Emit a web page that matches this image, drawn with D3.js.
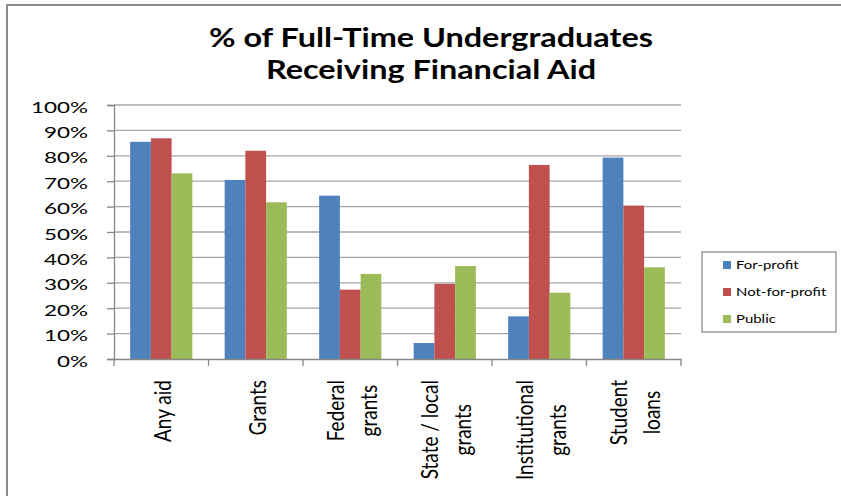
<!DOCTYPE html>
<html>
<head>
<meta charset="utf-8">
<script src="https://cdn.jsdelivr.net/npm/d3@7"></script>
<style>
  html, body { margin: 0; padding: 0; background: #fff; }
  svg { display: block; }
  text { font-family: Lato, "Open Sans", sans-serif; fill: #000; }
</style>
</head>
<body>
<svg id="chart" width="841" height="496"></svg>
<script>
// ---- data ----
const categories = ["Any aid", "Grants", "Federal\ngrants", "State / local\ngrants", "Institutional\ngrants", "Student\nloans"];
const seriesNames = ["For-profit", "Not-for-profit", "Public"];
const forProfit    = [85.5, 70.5, 64.3, 6.3, 16.8, 79.3];
const notForProfit = [86.9, 82.0, 27.3, 29.6, 76.4, 60.4];
const publicInst   = [73.1, 61.7, 33.5, 36.6, 26.1, 36.1];
const yTicks = [0, 10, 20, 30, 40, 50, 60, 70, 80, 90, 100];
const titleLines = ["% of Full-Time Undergraduates", "Receiving Financial Aid"];
const colors = ["#4F81BD", "#C0504D", "#9BBB59"];

const seriesValues = [forProfit, notForProfit, publicInst];

const svg = d3.select("#chart");

// outer chart border (extends beyond right/bottom edges)
svg.append("rect")
  .attr("x", 7).attr("y", 5).attr("width", 900).attr("height", 600)
  .attr("fill", "#fff").attr("stroke", "#8c8c8c").attr("stroke-width", 2);

const plot = { left: 114, right: 681, top: 105, bottom: 359 };

const x0 = d3.scaleBand().domain(categories).range([plot.left, plot.right]).padding(0);
const x1 = d3.scaleBand().domain(seriesNames).range([0, x0.bandwidth()]).paddingInner(0).paddingOuter(0.78);
const y = d3.scaleLinear().domain([0, 100]).range([plot.bottom, plot.top]);

// gridlines
svg.append("g").selectAll("line").data(yTicks.filter(d => d > 0)).join("line")
  .attr("x1", plot.left).attr("x2", plot.right)
  .attr("y1", d => y(d)).attr("y2", d => y(d))
  .attr("stroke", "#a6a6a6").attr("stroke-width", 1.3);

// bars
const groups = svg.append("g").selectAll("g").data(categories).join("g")
  .attr("transform", d => `translate(${x0(d)},0)`);
groups.selectAll("rect")
  .data((c, ci) => seriesNames.map((s, si) => ({ s, si, v: seriesValues[si][ci] })))
  .join("rect")
  .attr("x", d => x1(d.s))
  .attr("width", x1.bandwidth())
  .attr("y", d => y(d.v))
  .attr("height", d => y(0) - y(d.v))
  .attr("fill", d => colors[d.si]);

// y axis
const yAxis = d3.axisLeft(y).tickValues(yTicks).tickSize(7).tickFormat(d => d + "%");
const yg = svg.append("g").attr("transform", `translate(${plot.left},0)`).call(yAxis);
yg.select(".domain").attr("stroke", "#868686").attr("stroke-width", 1.3);
yg.selectAll(".tick line").attr("stroke", "#868686").attr("stroke-width", 1.3);
yg.selectAll(".tick text").remove();
// y labels (horizontally stretched like the reference)
const ySx = 1.45;
svg.append("g").selectAll("text").data(yTicks).join("text")
  .attr("transform", d => `translate(88,${y(d) + 2}) scale(${ySx},1)`)
  .attr("text-anchor", "end")
  .attr("dy", "0.36em")
  .attr("font-size", 15.5)
  .text(d => d + "%");

// x axis
const xAxis = d3.axisBottom(x0).tickSize(0).tickFormat("");
const xg = svg.append("g").attr("transform", `translate(0,${plot.bottom})`).call(xAxis);
xg.select(".domain").attr("stroke", "#868686").attr("stroke-width", 1.3);
// boundary ticks
const boundaries = categories.map(c => x0(c)).concat([plot.right]);
xg.selectAll(".bnd").data(boundaries).join("line").attr("class", "bnd")
  .attr("x1", d => d).attr("x2", d => d).attr("y1", 0).attr("y2", 7)
  .attr("stroke", "#868686").attr("stroke-width", 1.3);

// x labels, rotated, top-aligned block, lines centered
const xFs = 19, xSx = 1.2, lineGap = 33, labelTop = 380;
const xl = svg.append("g");
categories.forEach(c => {
  const lines = c.split("\n");
  const cx = x0(c) + x0.bandwidth() / 2 + 2;
  const tmp = lines.map(l => {
    const t = xl.append("text").attr("font-size", xFs).text(l);
    const w = t.node().getComputedTextLength();
    t.remove();
    return w;
  });
  const maxLen = d3.max(tmp);
  lines.forEach((l, i) => {
    const gx = cx + (i - (lines.length - 1) / 2) * lineGap;
    xl.append("text")
      .attr("transform", `translate(${gx},${labelTop + maxLen / 2}) scale(${xSx},1) rotate(-90)`)
      .attr("text-anchor", "middle")
      .attr("dy", "0.35em")
      .attr("font-size", xFs)
      .text(l);
  });
});

// title
const tSx = 1.2;
titleLines.forEach((t, i) => {
  svg.append("text")
    .attr("transform", `translate(431,${47 + i * 32}) scale(${tSx},1)`)
    .attr("text-anchor", "middle")
    .attr("font-weight", "bold")
    .attr("font-size", 27)
    .text(t);
});

// legend
const leg = svg.append("g");
leg.append("rect").attr("x", 702).attr("y", 252).attr("width", 134).attr("height", 80)
  .attr("fill", "#fff").attr("stroke", "#8c8c8c").attr("stroke-width", 1.3);
const legItems = leg.selectAll("g.item").data(seriesNames).join("g").attr("class", "item")
  .attr("transform", (d, i) => `translate(723,${265 + i * 27})`);
legItems.append("rect").attr("x", 0).attr("y", -4).attr("width", 8).attr("height", 8)
  .attr("fill", (d, i) => colors[i]);
legItems.append("text")
  .attr("transform", "translate(13,0) scale(1.3,1)")
  .attr("dy", "0.36em")
  .attr("font-size", 11.5)
  .text(d => d);
</script>
</body>
</html>
